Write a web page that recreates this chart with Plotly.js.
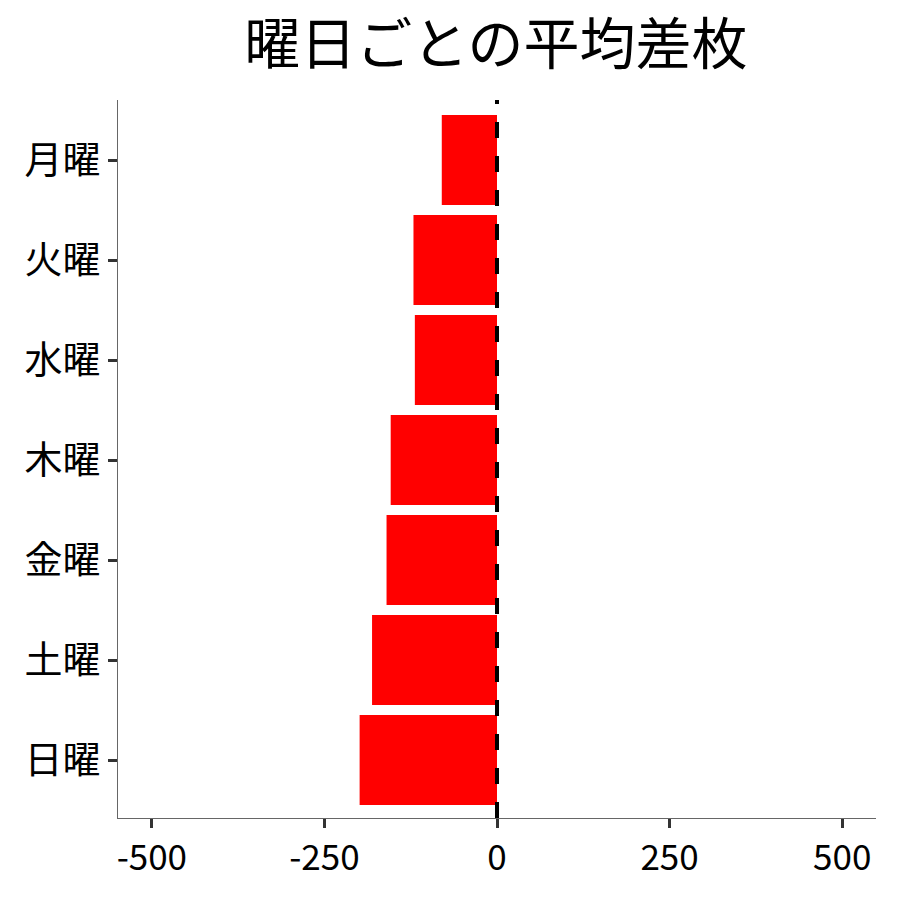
<!DOCTYPE html>
<html>
<head>
<meta charset="utf-8">
<script src="https://cdn.plot.ly/plotly-3.0.1.min.js"></script>
<style>
  body { margin: 0; background: #fff; }
  #chart { width: 900px; height: 900px; }
</style>
</head>
<body>
<div id="chart"></div>
<script>
var days = ['月曜', '火曜', '水曜', '木曜', '金曜', '土曜', '日曜'];
var avgDiff = [-80, -121, -119, -154, -160, -181, -199];
var xTicks = [-500, -250, 0, 250, 500];

var bars = {
    type: 'bar',
    orientation: 'h',
    x: avgDiff,
    y: days,
    marker: { color: '#ff0000' },
    hoverinfo: 'x+y'
};

var layout = {
    width: 900,
    height: 900,
    paper_bgcolor: '#fff',
    plot_bgcolor: '#fff',
    font: { family: '"Noto Sans CJK JP", "Noto Sans", sans-serif', color: '#000' },
    title: {
        text: '曜日ごとの平均差枚',
        font: { size: 56, color: '#000' },
        x: 0.551,
        xanchor: 'center',
        y: 0.951,
        yanchor: 'middle'
    },
    margin: { l: 118, r: 24, t: 100, b: 82 },
    bargap: 0.1,
    showlegend: false,
    xaxis: {
        range: [-549, 549],
        tickvals: xTicks,
        ticktext: xTicks.map(String),
        showgrid: false,
        zeroline: false,
        showline: true,
        linecolor: '#666',
        linewidth: 1,
        ticks: 'outside',
        ticklen: 9,
        tickwidth: 3,
        tickcolor: '#333',
        tickfont: { size: 35, color: '#000' }
    },
    yaxis: {
        type: 'category',
        categoryorder: 'array',
        categoryarray: days,
        range: [6.58, -0.6],
        showgrid: false,
        zeroline: false,
        showline: true,
        linecolor: '#666',
        linewidth: 1,
        ticks: 'outside',
        ticklen: 9,
        tickwidth: 3,
        tickcolor: '#333',
        tickfont: { size: 38, color: '#000' }
    },
    shapes: [{
        type: 'line',
        xref: 'x',
        yref: 'paper',
        x0: 0, x1: 0,
        y0: 0, y1: 1,
        line: { color: '#000', width: 4, dash: '16px,18px' }
    }]
};

Plotly.newPlot('chart', [bars], layout, { displayModeBar: false, staticPlot: true });
</script>
</body>
</html>
